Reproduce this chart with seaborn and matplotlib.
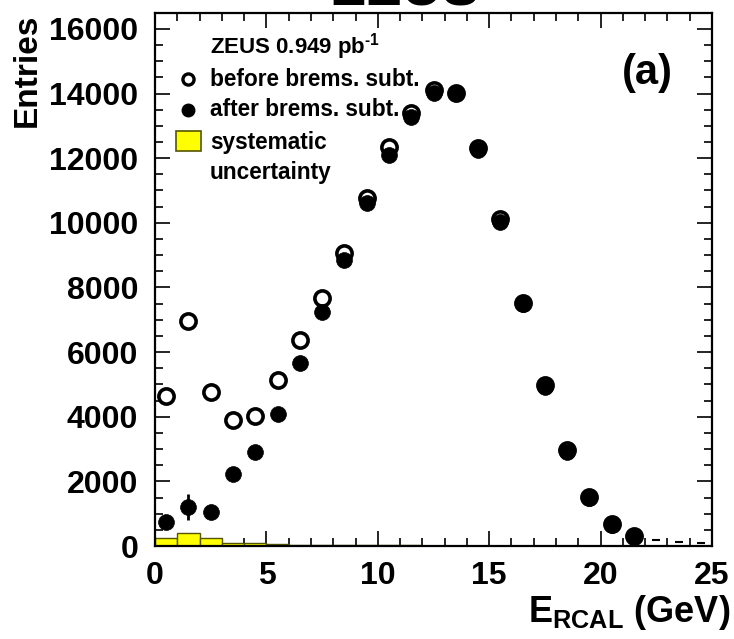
import matplotlib
matplotlib.use("Agg")
import matplotlib.pyplot as plt
import seaborn as sns
import numpy as np
import pandas as pd
from matplotlib.ticker import MultipleLocator

# ---------------- data ----------------
bin_centers = [0.5, 1.5, 2.5, 3.5, 4.5, 5.5, 6.5, 7.5, 8.5, 9.5, 10.5,
               11.5, 12.5, 13.5, 14.5, 15.5, 16.5, 17.5, 18.5, 19.5, 20.5, 21.5]
before_brems = [4650, 6970, 4780, 3900, 4020, 5140, 6380, 7680, 9070, 10770, 12350,
                13400, 14120, 14020, 12320, 10120, 7520, 4985, 2970, 1520, 680, 310]
after_brems = [740, 1210, 1050, 2230, 2910, 4090, 5670, 7240, 8850, 10620, 12100,
               13280, 14020, 14020, 12260, 10030, 7490, 4920, 2910, 1490, 650, 280]
after_err = [60, 400, 90, 70, 80, 90, 110, 120, 130, 150, 160,
             170, 170, 170, 160, 150, 130, 110, 80, 60, 40, 25]
tail_centers = [22.5, 23.5, 24.5]
tail_values = [180, 120, 80]
sys_edges = list(range(0, 26))
sys_values = [260, 390, 255, 100, 80, 60, 45, 30, 25, 20, 20, 20, 15,
              15, 15, 15, 12, 10, 8, 6, 4, 3, 0, 0, 0]
x_ticks = [0, 5, 10, 15, 20, 25]
y_ticks = [0, 2000, 4000, 6000, 8000, 10000, 12000, 14000, 16000]

# ---------------- style ----------------
sns.set_theme(style="ticks")
plt.rcParams['font.family'] = ['Liberation Sans', 'DejaVu Sans']
plt.rcParams['font.weight'] = 'bold'
plt.rcParams['text.color'] = 'black'
plt.rcParams['axes.labelcolor'] = 'black'
plt.rcParams['xtick.color'] = 'black'
plt.rcParams['ytick.color'] = 'black'
plt.rcParams['axes.edgecolor'] = 'black'
plt.rcParams['mathtext.fontset'] = 'custom'
plt.rcParams['mathtext.rm'] = 'Liberation Sans:bold'
plt.rcParams['mathtext.bf'] = 'Liberation Sans:bold'
plt.rcParams['mathtext.it'] = 'Liberation Sans:bold'
plt.rcParams['mathtext.sf'] = 'Liberation Sans:bold'
plt.rcParams['mathtext.default'] = 'rm'

fig = plt.figure(figsize=(7.34, 6.39), dpi=100)
ax = fig.add_axes([155 / 734, 1 - 546 / 639, 557 / 734, (546 - 12.7) / 639])

# systematic uncertainty histogram
sys_df = pd.DataFrame({"x": [e + 0.5 for e in sys_edges[:-1]], "w": sys_values})
sns.histplot(data=sys_df, x="x", weights="w", bins=sys_edges, ax=ax,
             color="#ffff00", edgecolor="#555500", linewidth=1.0, alpha=1.0,
             element="bars", legend=False, zorder=1)

df_b = pd.DataFrame({"x": bin_centers, "y": before_brems})
df_a = pd.DataFrame({"x": bin_centers, "y": after_brems})

ax.errorbar(bin_centers, after_brems, yerr=after_err, fmt='none',
            ecolor='black', elinewidth=2.0, capsize=0, zorder=2)
sns.scatterplot(data=df_b, x="x", y="y", ax=ax, marker='o', s=120,
                facecolor='white', edgecolor='black', linewidth=2.6, zorder=3)
sns.scatterplot(data=df_a, x="x", y="y", ax=ax, marker='o', s=130,
                color='black', edgecolor='black', linewidth=0.5, zorder=4)
sns.scatterplot(x=tail_centers, y=tail_values, ax=ax, marker='_', s=30,
                color='black', linewidth=1.5, zorder=4)

ax.set_xlim(0, 25)
ax.set_ylim(0, 16500)
ax.set_xticks(x_ticks)
ax.set_yticks(y_ticks)
ax.set_xticklabels([str(t) for t in x_ticks])
ax.set_yticklabels([str(t) for t in y_ticks])
ax.xaxis.set_minor_locator(MultipleLocator(1))
ax.yaxis.set_minor_locator(MultipleLocator(500))
ax.tick_params(which='both', direction='in', top=True, right=True,
               color='black', width=1.2)
ax.tick_params(which='major', length=11)
ax.tick_params(which='minor', length=6)
ax.tick_params(axis='y', which='major', labelsize=23, pad=12)
ax.tick_params(axis='x', which='major', labelsize=23, pad=11)
for lab in ax.get_xticklabels() + ax.get_yticklabels():
    lab.set_fontweight('bold')
    lab.set_color('black')
for sp in ax.spines.values():
    sp.set_linewidth(1.6)
    sp.set_color('black')
ax.set_xlabel("")
ax.set_ylabel("")

# axis titles
fig.text(730 / 734, 1 - 622 / 639, r'E$_{\rm RCAL}$ (GeV)', ha='right',
         va='baseline', fontsize=26, fontweight='bold', color='black')
fig.text(27 / 734, 1 - 14 / 639, 'Entries', rotation=90, ha='center',
         va='top', fontsize=24, fontweight='bold', color='black')
fig.text(405 / 734, 1 - 6 / 639, 'ZEUS', ha='center', va='baseline',
         fontsize=40, fontweight='bold', color='black')

# panel label
ax.text((647 - 155) / 557, (546 - 73) / 533.3, '(a)', transform=ax.transAxes,
        ha='center', va='center', fontsize=30, fontweight='bold', color='black')

# manual legend
def ax_x(px):
    return (px - 155) / 557

def ax_y(py):
    return (546 - py) / 533.3

tx = ax_x(210)
ax.text(tx, ax_y(47), r'ZEUS 0.949 pb$^{\text{-1}}$', transform=ax.transAxes,
        ha='left', va='center', fontsize=16, fontweight='bold', color='black')
ax.plot([ax_x(188)], [ax_y(79)], transform=ax.transAxes, marker='o',
        markersize=8, markerfacecolor='white', markeredgecolor='black',
        markeredgewidth=2.4, clip_on=False, linestyle='none')
ax.text(tx, ax_y(79), 'before brems. subt.', transform=ax.transAxes,
        ha='left', va='center', fontsize=16.3, fontweight='bold', color='black')
ax.plot([ax_x(188)], [ax_y(110)], transform=ax.transAxes, marker='o',
        markersize=9, markerfacecolor='black', markeredgecolor='black',
        clip_on=False, linestyle='none')
ax.text(tx, ax_y(110), 'after brems. subt.', transform=ax.transAxes,
        ha='left', va='center', fontsize=16.3, fontweight='bold', color='black')
ax.add_patch(plt.Rectangle((ax_x(176), ax_y(151)), ax_x(201) - ax_x(176),
                           ax_y(131) - ax_y(151), transform=ax.transAxes,
                           facecolor='#ffff00', edgecolor='#555500',
                           linewidth=1.2, clip_on=False))
ax.text(tx, ax_y(142), 'systematic', transform=ax.transAxes,
        ha='left', va='center', fontsize=16.3, fontweight='bold', color='black')
ax.text(tx, ax_y(172), 'uncertainty', transform=ax.transAxes,
        ha='left', va='center', fontsize=16.3, fontweight='bold', color='black')

fig.savefig("out.png", dpi=100)
